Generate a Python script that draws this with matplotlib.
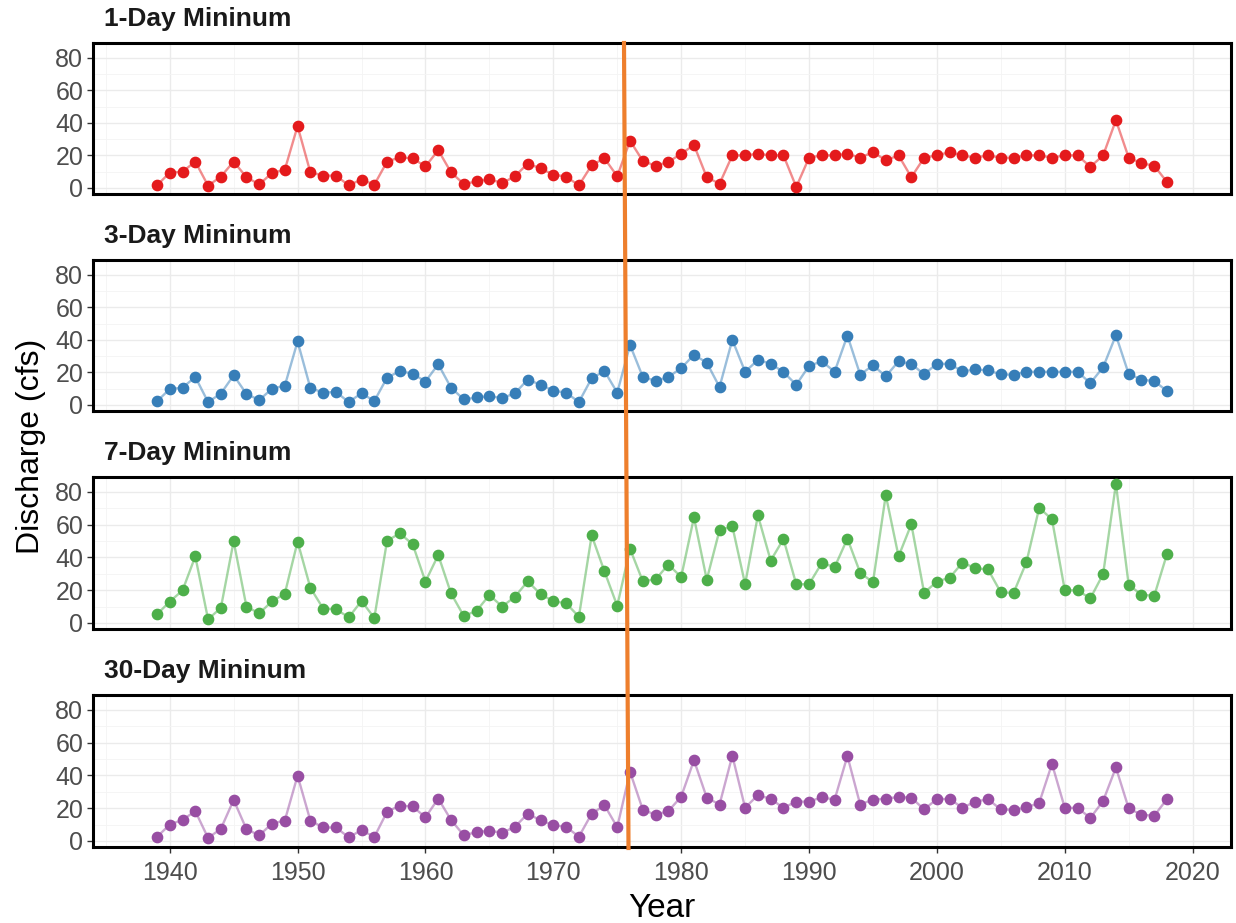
import numpy as np
import matplotlib
matplotlib.use("Agg")
import matplotlib.pyplot as plt
from matplotlib.lines import Line2D
from matplotlib.ticker import MultipleLocator

plt.rcParams['font.family'] = ['Liberation Sans', 'DejaVu Sans']

years = np.arange(1939, 2019)

day1 = [1.6, 9.4, 10, 16.2, 1.4, 7, 16.2, 6.6, 2.2, 9.2, 11.2, 38, 9.6, 7.6, 7.6, 1.6, 5.2, 2,
        16.2, 18.8, 18.2, 13.2, 23.2, 9.6, 2.4, 4, 5.4, 3, 7.2, 15, 12, 8.2, 7, 1.6, 14, 18.2, 7.2,
        29, 16.6, 13.6, 16, 21, 26.4, 6.6, 2.6, 20, 20, 21, 20, 20, 0.6, 18.6, 20, 20, 21, 18.6,
        22, 17, 20, 6.6, 18.6, 20, 22, 20, 18.6, 20, 18.6, 18.6, 20, 20, 18.6, 20, 20, 13, 20,
        41.6, 18.6, 15.2, 13.6, 3.6]

day3 = [2.2, 9.8, 10.6, 17.2, 1.8, 7, 18.2, 6.8, 3, 10, 11.8, 39, 10.4, 7.6, 8, 1.8, 7.2, 2.4,
        16.8, 20.8, 19.2, 14.4, 25, 10.6, 3.4, 4.6, 5.4, 4.2, 7.2, 15.6, 12.4, 8.8, 7.6, 1.8, 16.4,
        20.8, 7.6, 36.8, 17.2, 14.8, 17.2, 22.6, 30.8, 26, 11, 40, 20.4, 27.6, 25.4, 20.2, 12.4,
        24, 26.8, 20.4, 42.6, 18.6, 24.4, 17.6, 26.8, 25.2, 18.8, 25.4, 25.2, 20.6, 21.8, 21.2,
        18.8, 18.6, 20.4, 20.4, 20.4, 20.4, 20.4, 13.4, 23.2, 42.8, 19, 15.6, 14.6, 8.6]

day7 = [5.2, 13, 19.8, 40.6, 2.2, 9.2, 49.8, 10, 5.8, 13.2, 17.8, 49.6, 21.4, 8.8, 8.4, 3.4,
        13.4, 3, 50.2, 54.6, 48, 25.2, 41.4, 18, 4.2, 7.4, 17, 10, 16, 25.4, 17.6, 13.2, 12, 3.8,
        53.4, 31.4, 10.4, 45.2, 25.4, 26.6, 35.6, 28, 64.4, 26.4, 56.6, 59, 23.6, 65.6, 38, 51.2,
        23.6, 23.6, 36.6, 34, 51.4, 30.6, 24.8, 78, 40.6, 60.2, 18.4, 25.2, 27.6, 36.8, 33.4,
        32.6, 18.6, 18.4, 37, 70.2, 63.2, 20, 19.8, 15, 29.8, 84.8, 23.2, 17.2, 16.6, 42.2]

day30 = [2.4, 10, 12.8, 18.2, 1.8, 7.4, 25, 7.2, 3.4, 10.6, 12.4, 39.8, 12.4, 8.2, 8.2, 2.2,
         6.6, 2.4, 17.8, 21.6, 21, 14.4, 25.8, 12.8, 3.4, 5.4, 6.2, 5, 8.6, 16.6, 12.6, 9.6, 8.6,
         2.6, 16.6, 21.8, 8.4, 42.2, 19, 16, 18.2, 27, 49.2, 26.4, 22.2, 52, 20.2, 28, 25.6, 20.2,
         24, 24, 26.6, 25.2, 51.8, 22.2, 25.2, 25.8, 26.8, 26.4, 19.2, 25.6, 25.6, 20.2, 24, 25.4,
         19.2, 19, 20.4, 23.2, 47, 20.2, 20.2, 14, 24.4, 44.8, 19.8, 16, 15.4, 25.6]

titles = ['1-Day Mininum', '3-Day Mininum', '7-Day Mininum', '30-Day Mininum']
series = [day1, day3, day7, day30]
colors = ['#E41A1C', '#377EB8', '#4DAF4A', '#984EA3']

W, H = 1236, 923
fig = plt.figure(figsize=(W / 100, H / 100), dpi=100)

# panel boxes in pixels (top, bottom)
boxes = [(43, 194), (260, 411), (477, 629), (695, 847)]
left, right = 93, 1231

axes = []
for i, (top, bot) in enumerate(boxes):
    ax = fig.add_axes([left / W, 1 - bot / H, (right - left) / W, (bot - top) / H])
    ax.plot(years, series[i], color=colors[i], alpha=0.5, lw=1.7, zorder=2)
    ax.plot(years, series[i], 'o', color=colors[i], ms=7.4, zorder=3)
    ax.set_xlim(1934, 2023)
    ax.set_ylim(-3.7, 89)
    ax.set_yticks([0, 20, 40, 60, 80])
    ax.xaxis.set_major_locator(MultipleLocator(10))
    ax.xaxis.set_minor_locator(MultipleLocator(5))
    ax.yaxis.set_minor_locator(MultipleLocator(10))
    ax.grid(True, which='major', color='#EBEBEB', lw=1.0, zorder=0)
    ax.grid(True, which='minor', color='#F4F4F4', lw=0.6, zorder=0)
    ax.tick_params(which='minor', length=0)
    ax.tick_params(which='major', length=4, width=1, color='#333333',
                   labelsize=18, labelcolor='#4D4D4D', pad=3)
    ax.tick_params(axis='x', pad=6)
    for s in ax.spines.values():
        s.set_linewidth(2.2)
        s.set_color('black')
    if i < 3:
        ax.tick_params(axis='x', which='both', bottom=False, labelbottom=False)
    ax.text(104 / W, 1 - (top - 24) / H, titles[i], transform=fig.transFigure,
            fontsize=19, fontweight='bold', color='#1A1A1A', ha='left', va='center')
    axes.append(ax)

axes[-1].set_xlabel('Year', fontsize=24, labelpad=6)
fig.text(31 / W, 1 - 446 / H, 'Discharge (cfs)', rotation=90, fontsize=23,
         ha='center', va='center')

# hand-drawn change point marker
fig.add_artist(Line2D([624 / W, 628.5 / W], [1 - 43 / H, 1 - 848 / H],
                      transform=fig.transFigure, color='#EE7F2D', lw=3, zorder=10))

fig.savefig('out.png', dpi=100)
